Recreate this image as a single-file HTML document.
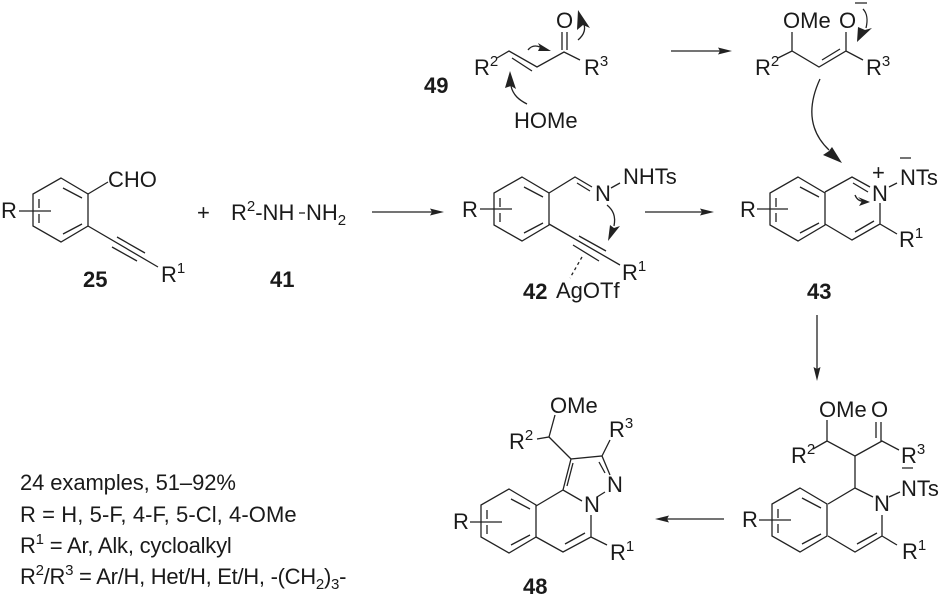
<!DOCTYPE html>
<html><head><meta charset="utf-8"><style>
html,body{margin:0;padding:0;background:#fff;width:944px;height:599px;overflow:hidden}
svg{display:block}
text{font-family:"Liberation Sans",sans-serif;font-size:22px;fill:#1a1a1a}
.b{font-weight:bold}
.l{fill:none;stroke:#222;stroke-width:1.3}
.h{fill:#222;stroke:none}
</style></head><body>
<svg width="944" height="599" viewBox="0 0 944 599" xmlns="http://www.w3.org/2000/svg">
<defs>
<g id="ring">
<path class="l" d="M0 0L27 16V48L0 64L-28 48V16Z M2 10L21 20 M2 56L21 46 M-22 21V30 M-22 36V45"/>
</g>
</defs>

<!-- 25 -->
<use href="#ring" x="61" y="178"/>
<path class="l" d="M19 211H51 M88 194L108 182 M88 226L158 267 M117 237L145 253 M112 247L137 261"/>
<text x="1" y="218">R</text>
<text x="108" y="187">CHO</text>
<text x="161" y="282">R<tspan font-size="15" dy="-9">1</tspan></text>
<text class="b" x="83" y="287">25</text>
<text x="197" y="220">+</text>
<text x="231" y="220">R<tspan font-size="15" dy="-9">2</tspan><tspan dy="9">-NH</tspan></text>
<path class="l" d="M299 213H305"/>
<text x="306" y="220">NH<tspan font-size="15" dy="5">2</tspan></text>
<text class="b" x="270" y="287">41</text>

<!-- arrow 25 -> 42 -->
<path class="l" d="M372 212H432"/><path class="h" d="M444 212L430 208.500L432 212L430 215.500Z"/>

<!-- 42 -->
<use href="#ring" x="522" y="177"/>
<path class="l" d="M480 209H512 M549 193L575 177L592 187 M577 183L590 191 M611 188L620 183 M549 224L620 265 M579 236L606 251 M573 245L599 261"/>
<path class="l" stroke-dasharray="3 3" d="M582 257L570 278"/>
<text x="462" y="217">R</text>
<text x="595" y="201">N</text>
<text x="623" y="184">NHTs</text>
<text x="622" y="280">R<tspan font-size="15" dy="-9">1</tspan></text>
<text class="b" x="523" y="299">42</text>
<text x="556" y="298">AgOTf</text>
<path class="l" d="M607 205C613 210 616 216 614 226"/>
<path class="h" d="M608 241L610 225L614 228L620 226Z"/>

<!-- arrow 42 -> 43 -->
<path class="l" d="M645 212H702"/><path class="h" d="M714 212L700 208.500L702 212L700 215.500Z"/>

<!-- 43 -->
<use href="#ring" x="798" y="177"/>
<path class="l" d="M757 209H788 M825 192L852 177L870 187 M853 183L868 192 M880 203V224L852 240L825 224 M855 232L874 221 M880 224L897 234 M889 187L897 183 M900 158H911"/>
<text x="740" y="217">R</text>
<text x="872" y="201">N</text>
<text x="900" y="185">NTs</text>
<text x="872" y="180">+</text>
<text x="899" y="247">R<tspan font-size="15" dy="-9">1</tspan></text>
<text class="b" x="807" y="299">43</text>
<path class="l" d="M855 195C857 200 861 202 866 201"/>
<path class="h" d="M870 202L858 197L862 201L859 206Z"/>

<!-- 49 -->
<text x="474" y="75">R<tspan font-size="15" dy="-9">2</tspan></text>
<path class="l" d="M497 58L509 51L537 67L564 52L580 60 M512 58L532 71 M562 32V50 M567 32V50"/>
<text x="556" y="28">O</text>
<text x="584" y="75">R<tspan font-size="15" dy="-9">3</tspan></text>
<text class="b" x="424" y="93">49</text>
<text x="514" y="128">HOMe</text>
<path class="l" d="M528 50C531 46 535 45 540 47"/>
<path class="h" d="M551 51L538 43L540 47L538 51Z"/>
<path class="l" d="M578 40C585 34 586 28 583 22"/>
<path class="h" d="M578 10L590 28L583 25L577 30Z"/>
<path class="l" d="M527 104C519 100 513 95 511 86"/>
<path class="h" d="M510 71L516 89L511 86L505 88Z"/>

<!-- arrow -->
<path class="l" d="M671 51H722"/><path class="h" d="M732 51L718 47.500L720 51L718 54.500Z"/>

<!-- enolate -->
<text x="755" y="75">R<tspan font-size="15" dy="-9">2</tspan></text>
<path class="l" d="M778 58L792 51L819 67L846 51L863 60 M792 51V32 M846 51V32 M822 60L840 49 M855 3H867"/>
<text x="783" y="28">OMe</text>
<text x="839" y="28">O</text>
<text x="866" y="75">R<tspan font-size="15" dy="-9">3</tspan></text>
<path class="l" d="M863 9C867 13 868 20 866 28"/>
<path class="h" d="M857 42L858 27L865 30L872 28Z"/>

<!-- big curved arrow -->
<path class="l" d="M820 79C808 105 808 130 829 150"/>
<path class="h" d="M842 163L823 155L829 151L832 147Z"/>

<!-- vertical arrow -->
<path class="l" d="M817 315V370"/><path class="h" d="M817 381L813.500 367L817 369L820.500 367Z"/>

<!-- intermediate -->
<use href="#ring" x="800" y="488"/>
<path class="l" d="M759 520H791 M828 504L855 488L873 497 M882 515V536L855 552L828 536 M857 544L877 533 M882 536L897 545 M855 488V456L827 441V420 M827 441L813 449 M855 456L882 441L899 450 M876 422V438 M881 422V441 M889 497L900 492 M902 468H913"/>
<text x="742" y="527">R</text>
<text x="874" y="511">N</text>
<text x="901" y="496">NTs</text>
<text x="902" y="559">R<tspan font-size="15" dy="-9">1</tspan></text>
<text x="819" y="417">OMe</text>
<text x="871" y="417">O</text>
<text x="791" y="463">R<tspan font-size="15" dy="-9">2</tspan></text>
<text x="901" y="463">R<tspan font-size="15" dy="-9">3</tspan></text>

<!-- arrow left -->
<path class="l" d="M724 519H667"/><path class="h" d="M655 519L669 515.500L667 519L669 522.500Z"/>

<!-- 48 -->
<use href="#ring" x="509" y="489"/>
<path class="l" d="M470 522H502 M536 506L563 490L582 501 M591 515V537L563 552L536 537 M565 544L585 533 M591 537L607 545 M563 490L571 459L602 456L610 475 M567 486L573 463 M599 462L605 473 M597 497L605 492 M571 459L549 437L537 439 M549 437L555 415 M602 456L610 440"/>
<text x="453" y="529">R</text>
<text x="584" y="512">N</text>
<text x="607" y="492">N</text>
<text x="610" y="560">R<tspan font-size="15" dy="-9">1</tspan></text>
<text x="550" y="413">OMe</text>
<text x="509" y="449">R<tspan font-size="15" dy="-9">2</tspan></text>
<text x="609" y="437">R<tspan font-size="15" dy="-9">3</tspan></text>
<text class="b" x="523" y="594">48</text>

<!-- notes -->
<text x="20" y="490" letter-spacing="-0.1">24 examples, 51–92%</text>
<text x="20" y="522" letter-spacing="0.08">R = H, 5-F, 4-F, 5-Cl, 4-OMe</text>
<text x="20" y="553" letter-spacing="-0.22">R<tspan font-size="15" dy="-9">1</tspan><tspan dy="9"> = Ar, Alk, cycloalkyl</tspan></text>
<text x="20" y="584" letter-spacing="-0.28">R<tspan font-size="15" dy="-9">2</tspan><tspan dy="9">/R</tspan><tspan font-size="15" dy="-9">3</tspan><tspan dy="9"> = Ar/H, Het/H, Et/H, -(CH</tspan><tspan font-size="15" dy="5">2</tspan><tspan dy="-5">)</tspan><tspan font-size="15" dy="5">3</tspan><tspan dy="-5">-</tspan></text>
</svg>
</body></html>
